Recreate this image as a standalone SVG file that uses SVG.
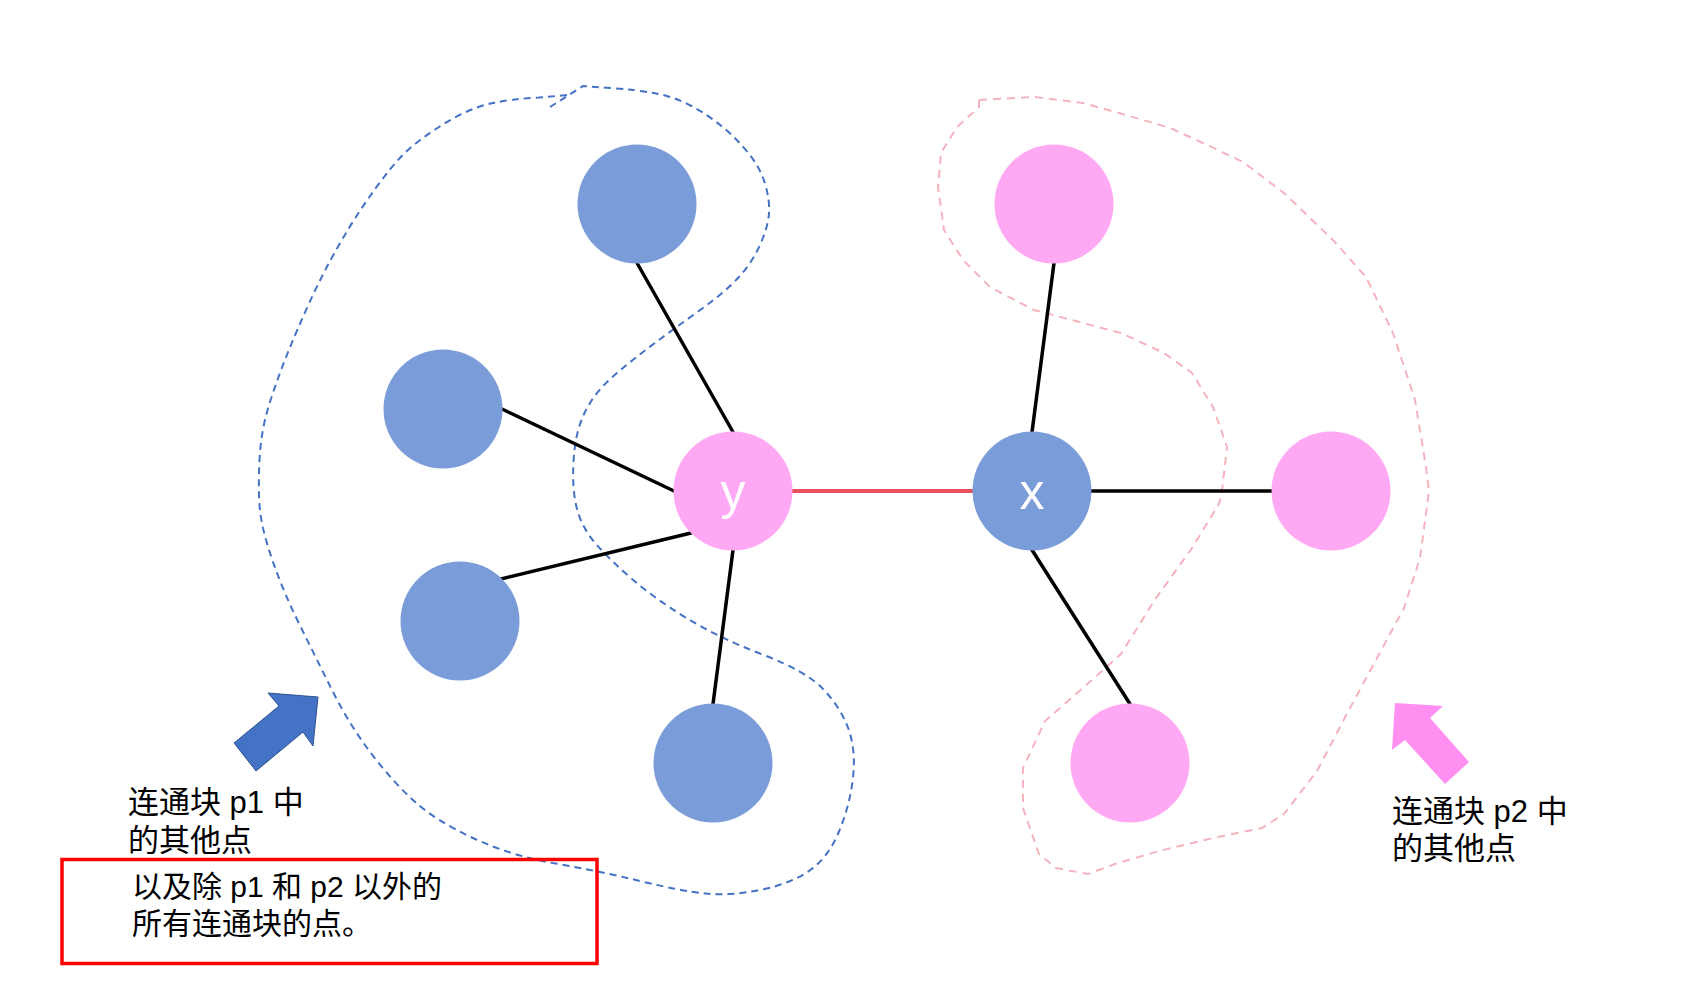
<svg xmlns="http://www.w3.org/2000/svg" width="1708" height="982" viewBox="0 0 1708 982">
<style>
.bn{fill:#7A9CD8}
.pn{fill:#FFA8F4}
.edge{stroke:#000;stroke-width:3.5;stroke-linecap:round;fill:none}
.red{stroke:#E8505F;stroke-width:4;fill:none}
.lbl{font-family:"Liberation Sans","Noto Sans CJK SC",sans-serif;font-size:50px;fill:#fff;text-anchor:middle}
.txt{font-family:"Liberation Sans","Noto Sans CJK SC",sans-serif;font-size:31px;fill:#000}
.txt2{font-family:"Liberation Sans","Noto Sans CJK SC",sans-serif;font-size:30px;fill:#000}
</style>
<rect width="1708" height="982" fill="#fff"/>
<g id="outlines">
<path id="p1-outline" fill="none" stroke="#4472C4" stroke-width="2" stroke-dasharray="7 5" d="M550,107 L583,86 L610,88 Q637,90 656,93.5 Q675,97 691.5,106 Q708,115 721.5,126 Q735,137 747.5,152 Q760,167 765,183.5 Q770,200 769,213.5 Q768,227 760,245 Q752,263 738,278 Q724,293 699.5,310.5 Q675,328 653.5,344 Q632,360 613,376.5 Q594,393 584.5,413 Q575,433 573.5,461.5 Q572,490 577,509 Q582,528 596,544 Q610,560 632,579 Q654,598 686.5,618 Q719,638 762.5,654.5 Q806,671 823.5,689.5 Q841,708 848.5,729 Q856,750 853,777.5 Q850,805 839,831.5 Q828,858 809,871 Q790,884 760,890 Q730,896 705.5,893.5 Q681,891 640,881 Q599,871 555.5,863.5 Q512,856 474,838.5 Q436,821 414,801 Q392,781 370.5,752.5 Q349,724 332.5,691 Q316,658 299.5,624.5 Q283,591 272.5,560.5 Q262,530 260,510.5 Q258,491 259.5,460.5 Q261,430 269.5,403.5 Q278,377 287.5,353.5 Q297,330 309,303.5 Q321,277 335,252 Q349,227 362.5,207 Q376,187 389.5,170 Q403,153 419.5,140.5 Q436,128 455,117.5 Q474,107 493,103 Q512,99 539,97.5 L568,95"/>
<path id="p2-outline" fill="none" stroke="#F5B3BE" stroke-width="2" stroke-dasharray="8 6" d="M979,100 L1034,97 L1083,103 L1126,115 L1170,128 L1203,143 L1243,162 L1284,193 L1333,240 L1366,277 L1393,333 L1415,400 L1426,467 L1429,491 L1420,558 L1404,608 L1377,658 L1350,708 L1317,771 L1284,814 L1262,828 L1213,838 L1159,851 L1115,864 L1088,874 L1056,868 L1039,854 L1023,808 L1023,768 L1045,721 L1083,688 L1121,654 L1154,601 L1192,548 L1219,504 L1222,491 L1227,447 L1213,407 L1192,373 L1164,353 L1121,333 L1083,323 L1034,310 L990,287 L963,260 L944,230 L938,187 L941,153 L957,127 L979,107 Z"/>
</g>
<g id="connectors">
<line class="edge" x1="637" y1="263" x2="733" y2="432"/>
<line class="edge" x1="502" y1="409" x2="674" y2="491"/>
<line class="edge" x1="501" y1="579" x2="691" y2="533"/>
<line class="edge" x1="733" y1="550" x2="713" y2="704"/>
<line class="red" x1="792" y1="491" x2="973" y2="491"/>
<line class="edge" x1="1054" y1="263" x2="1032" y2="432"/>
<line class="edge" x1="1091" y1="491" x2="1272" y2="491"/>
<line class="edge" x1="1032" y1="550" x2="1130" y2="704"/>
</g>
<g id="node-b1"><circle class="bn" cx="637" cy="204" r="59.5"/></g>
<g id="node-b2"><circle class="bn" cx="443" cy="409" r="59.5"/></g>
<g id="node-b3"><circle class="bn" cx="460" cy="621" r="59.5"/></g>
<g id="node-b4"><circle class="bn" cx="713" cy="763" r="59.5"/></g>
<g id="node-y"><circle class="pn" cx="733" cy="491" r="59.5"/><text class="lbl" x="733" y="509">y</text></g>
<g id="node-x"><circle class="bn" cx="1032" cy="491" r="59.5"/><text class="lbl" x="1032" y="509">x</text></g>
<g id="node-p1"><circle class="pn" cx="1054" cy="204" r="59.5"/></g>
<g id="node-p2"><circle class="pn" cx="1331" cy="491" r="59.5"/></g>
<g id="node-p3"><circle class="pn" cx="1130" cy="763" r="59.5"/></g>
<g id="arrow-blue"><polygon points="268,693 318,697 313,746 303,732 256,771 234,743 279,706" fill="#4472C4" stroke="#2F528F" stroke-width="1"/></g>
<g id="arrow-pink"><polygon points="1395,703 1443,706 1430,718 1469,762 1445,784 1405,740 1392,750" fill="#FF8FF0"/></g>
<g id="label-p1">
<text class="txt" x="128" y="813">连通块 p1 中</text>
<text class="txt" x="128" y="851">的其他点</text>
</g>
<g id="label-p2">
<text class="txt" x="1392" y="822">连通块 p2 中</text>
<text class="txt" x="1392" y="859">的其他点</text>
</g>
<g id="note-box">
<rect x="62" y="859.5" width="535" height="104" fill="none" stroke="#FF0000" stroke-width="3.5"/>
<text class="txt2" x="132" y="897">以及除 p1 和 p2 以外的</text>
<text class="txt2" x="132" y="934">所有连通块的点。</text>
</g>
</svg>
